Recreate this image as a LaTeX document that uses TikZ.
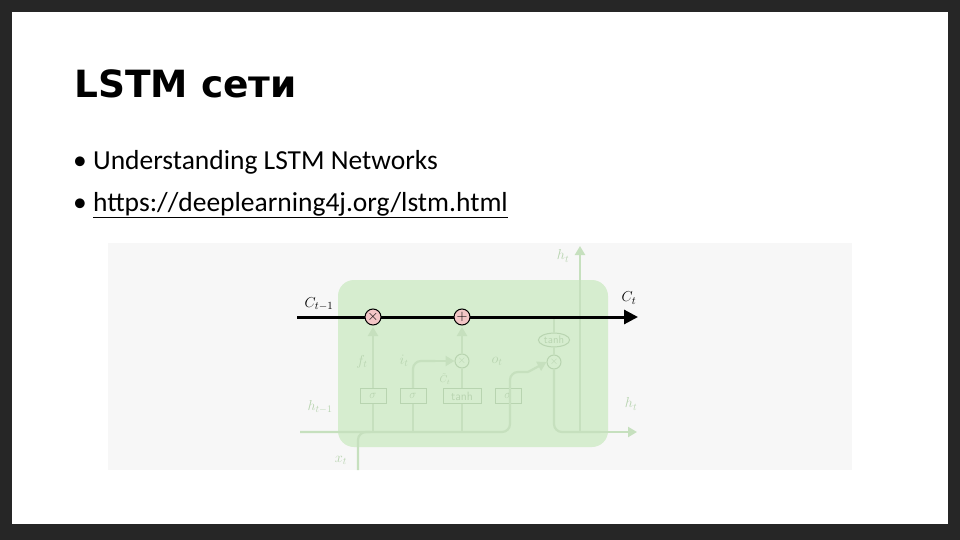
\documentclass[tikz,border=0pt]{standalone}
\usepackage{fontspec}
\setmainfont{Carlito}
\newfontfamily\titlefont{DejaVu Sans}
\usetikzlibrary{arrows.meta,shapes.geometric}
\definecolor{fg}{HTML}{C6E0BE}
\definecolor{fgt}{HTML}{B8D4B0}
\definecolor{cellbg}{HTML}{D6EDCF}
\definecolor{pink}{HTML}{F3C6C6}
\tikzset{
 faint/.style={draw=fg,line width=2.2pt},
 fa/.style={faint,-{Triangle[length=9pt,width=10pt]}},
 gate/.style={draw=fgt,line width=1pt,fill=cellbg,minimum height=15pt,inner sep=1pt,font=\sffamily\fontsize{12}{12}\selectfont,text=fgt},
 pw/.style={circle,draw=fgt,line width=1pt,fill=cellbg,inner sep=0pt,minimum size=14pt,font=\fontsize{11}{11}\selectfont,text=fgt},
 op/.style={circle,draw=black,line width=1pt,fill=pink,inner sep=0pt,minimum size=16pt,font=\fontsize{14}{14}\selectfont},
 lab/.style={text=fgt,font=\fontsize{14}{14}\selectfont},
}
\begin{document}
\begin{tikzpicture}[x=1pt,y=-1pt]
\fill[black!85] (0,0) rectangle (960,540);
\fill[white] (12,12) rectangle (948,524);
\useasboundingbox (0,0) rectangle (960,540);
\node[anchor=base west,inner sep=0,font=\titlefont\bfseries\fontsize{37.5}{37}\selectfont] (title) at (74,98) {LSTM сети};
\node[anchor=base west,inner sep=0,font=\fontsize{27.5}{26}\selectfont] (b1) at (73,170) {•\ Understanding LSTM Networks};
\node[anchor=base west,inner sep=0,font=\fontsize{27.5}{26}\selectfont] (b2) at (73,211) {•\ \underline{https://deeplearning4j.org/lstm.html}};
\fill[black!3] (108,243) rectangle (852,470);
\fill[cellbg,rounded corners=16pt] (338,280) rectangle (608,447);
% faint internals
\node[gate,minimum width=26pt] (s1) at (373,396) {$\sigma$};
\node[gate,minimum width=26pt] (s2) at (413,396) {$\sigma$};
\node[gate,minimum width=38pt] (th) at (462,396) {tanh};
\node[gate,minimum width=26pt] (s3) at (508,396) {$\sigma$};
\node[pw] (m1) at (462,361) {$\times$};
\node[pw] (m2) at (554,362) {$\times$};
\node[ellipse,draw=fgt,line width=1pt,fill=cellbg,inner sep=1pt,font=\sffamily\fontsize{11}{11}\selectfont,text=fgt] (t2) at (554,340) {tanh};
\coordinate (hin) at (300,432);
\coordinate (hout) at (637,432);
\coordinate (xin) at (358,470);
\coordinate (htop) at (580,246);
\draw[faint,rounded corners=8pt] (hin) -- (510,432) -- (510,372) -- (528,372);
\draw[fa] (528,372) -- (m2.west);
\draw[faint,rounded corners=8pt] (xin) -- (358,432) -- (370,432);
\draw[faint] (s1.south) -- (373,432) (s2.south) -- (413,432) (th.south) -- (462,432);
\draw[faint,rounded corners=8pt] (s2.north) -- (413,361) -- (435,361);
\draw[fa] (435,361) -- (m1.west);
\draw[faint] (th.north) -- (m1.south);
\draw[fa] (m1.north) -- (462,327);
\draw[fa] (s1.north) -- (373,327);
\draw[faint] (m2.north) -- (t2.south) (t2.north) -- (554,317);
\draw[faint,rounded corners=8pt] (m2.south) -- (554,432) -- (600,432);
\draw[fa] (600,432) -- (hout);
\draw[fa] (580,432) -- (htop);
\node[lab] at (563,256) {$h_t$};
\node[lab] at (631,404) {$h_t$};
\node[lab] at (320,407) {$h_{t-1}$};
\node[lab] at (341,460) {$x_t$};
\node[lab] at (362,362) {$f_t$};
\node[lab] at (404,361) {$i_t$};
\node[lab] at (497,361) {$o_t$};
\node[lab,font=\fontsize{10}{10}\selectfont,inner sep=0pt] at (445,379) {$\tilde C_t$};
% cell state
\coordinate (cin) at (297,317);
\coordinate (cout) at (638,317);
\draw[line width=3pt,-{Triangle[length=14pt,width=14pt]}] (cin) -- (cout);
\node[op] (x1) at (373,317) {$\times$};
\node[op] (p1) at (462,317) {$+$};
\node[font=\fontsize{15}{15}\selectfont] at (319,304) {$C_{t-1}$};
\node[font=\fontsize{15}{15}\selectfont] at (629,298) {$C_t$};
\end{tikzpicture}
\end{document}
